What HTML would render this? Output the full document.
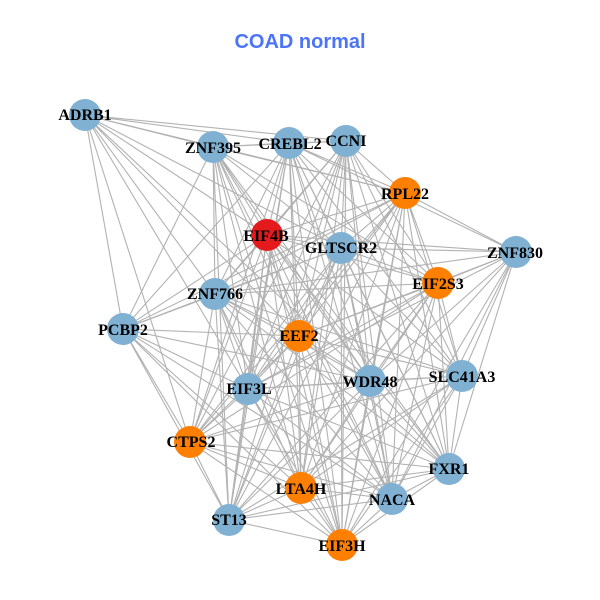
<!DOCTYPE html>
<html><head><meta charset="utf-8"><style>
html,body{margin:0;padding:0;background:#fff}
svg{display:block}
.n text{font:bold 16px "Liberation Serif",serif;text-anchor:middle;fill:#000}
</style></head><body>
<svg width="600" height="600" viewBox="0 0 600 600" xmlns="http://www.w3.org/2000/svg">
<rect width="600" height="600" fill="#fff"/>
<text x="300" y="48" text-anchor="middle" style="font:bold 20px 'Liberation Sans',sans-serif" fill="#4c74f8">COAD normal</text>
<g fill="none" stroke="#b2b2b2" stroke-width="1.1" stroke-linejoin="round">
<path d="M85 115L289 143 85 115 346 141 85 115 213 147 85 115 405 193 85 115 267 235 85 115 341 248 85 115 215 294 85 115 299 336 85 115 248 389 85 115 190 442 85 115 123 329 85 115 370 381"/>
<path d="M213 147L289 143 213 147 346 141 213 147 405 193 213 147 267 235 213 147 341 248 213 147 438 283 213 147 215 294 213 147 123 329 213 147 299 336 213 147 370 381 213 147 248 389 213 147 301 488 213 147 392 499 213 147 229 520 213 147 449 469 213 147 342 545"/>
<path d="M289 143L346 141 289 143 405 193 289 143 267 235 289 143 341 248 289 143 438 283 289 143 516 252 289 143 215 294 289 143 123 329 289 143 299 336 289 143 370 381 289 143 462 376 289 143 248 389 289 143 190 442 289 143 449 469 289 143 301 488 289 143 392 499 289 143 229 520 289 143 342 545"/>
<path d="M346 141L405 193 346 141 267 235 346 141 341 248 346 141 438 283 346 141 215 294 346 141 299 336 346 141 370 381 346 141 462 376 346 141 248 389 346 141 190 442 346 141 301 488 346 141 392 499 346 141 449 469 346 141 342 545 346 141 229 520"/>
<path d="M405 193L516 252 405 193 267 235 405 193 341 248 405 193 438 283 405 193 215 294 405 193 299 336 405 193 370 381 405 193 462 376 405 193 248 389 405 193 190 442 405 193 449 469 405 193 301 488 405 193 392 499 405 193 229 520 405 193 342 545 405 193 123 329"/>
<path d="M267 235L341 248 267 235 516 252 267 235 438 283 267 235 215 294 267 235 123 329 267 235 299 336 267 235 370 381 267 235 462 376 267 235 248 389 267 235 190 442 267 235 449 469 267 235 301 488 267 235 392 499 267 235 229 520 267 235 342 545"/>
<path d="M341 248L516 252 341 248 438 283 341 248 215 294 341 248 123 329 341 248 299 336 341 248 370 381 341 248 462 376 341 248 248 389 341 248 190 442 341 248 449 469 341 248 301 488 341 248 392 499 341 248 229 520 341 248 342 545"/>
<path d="M516 252L438 283 516 252 299 336 516 252 370 381 516 252 462 376 516 252 248 389 516 252 449 469 516 252 392 499 516 252 301 488 516 252 342 545 516 252 215 294"/>
<path d="M438 283L215 294 438 283 299 336 438 283 370 381 438 283 462 376 438 283 248 389 438 283 190 442 438 283 449 469 438 283 301 488 438 283 392 499 438 283 229 520 438 283 342 545"/>
<path d="M215 294L123 329 215 294 299 336 215 294 370 381 215 294 462 376 215 294 248 389 215 294 190 442 215 294 449 469 215 294 301 488 215 294 392 499 215 294 229 520 215 294 342 545"/>
<path d="M123 329L299 336 123 329 370 381 123 329 248 389 123 329 190 442 123 329 301 488 123 329 229 520 123 329 392 499 123 329 342 545"/>
<path d="M299 336L370 381 299 336 462 376 299 336 248 389 299 336 190 442 299 336 449 469 299 336 301 488 299 336 392 499 299 336 229 520 299 336 342 545"/>
<path d="M370 381L462 376 370 381 248 389 370 381 190 442 370 381 449 469 370 381 301 488 370 381 392 499 370 381 229 520 370 381 342 545"/>
<path d="M462 376L248 389 462 376 190 442 462 376 449 469 462 376 301 488 462 376 392 499 462 376 229 520 462 376 342 545"/>
<path d="M248 389L190 442 248 389 449 469 248 389 301 488 248 389 392 499 248 389 229 520 248 389 342 545"/>
<path d="M190 442L449 469 190 442 301 488 190 442 392 499 190 442 229 520 190 442 342 545"/>
<path d="M449 469L301 488 449 469 392 499 449 469 229 520 449 469 342 545"/>
<path d="M301 488L392 499 301 488 229 520 301 488 342 545"/>
<path d="M392 499L229 520 392 499 342 545"/>
<path d="M229 520L342 545"/>
</g>
<g fill="#80b1d3">
<circle cx="85" cy="115" r="16"/><circle cx="213" cy="147" r="16"/><circle cx="289" cy="143" r="16"/><circle cx="346" cy="141" r="16"/>
<circle cx="341" cy="248" r="16"/><circle cx="516" cy="252" r="16"/><circle cx="215" cy="294" r="16"/><circle cx="123" cy="329" r="16"/>
<circle cx="370" cy="381" r="16"/><circle cx="462" cy="376" r="16"/><circle cx="248" cy="389" r="16"/><circle cx="449" cy="469" r="16"/>
<circle cx="392" cy="499" r="16"/><circle cx="229" cy="520" r="16"/>
</g>
<g fill="#ff7f00">
<circle cx="405" cy="193" r="16"/><circle cx="438" cy="283" r="16"/><circle cx="299" cy="336" r="16"/><circle cx="190" cy="442" r="16"/>
<circle cx="301" cy="488" r="16"/><circle cx="342" cy="545" r="16"/>
</g>
<circle cx="267" cy="235" r="16" fill="#e41a1c"/>
<g class="n">
<text x="85" y="120">ADRB1</text>
<text x="213" y="153">ZNF395</text>
<text x="290" y="149">CREBL2</text>
<text x="346" y="146">CCNI</text>
<text x="405" y="199">RPL22</text>
<text x="266" y="241">EIF4B</text>
<text x="341" y="253">GLTSCR2</text>
<text x="515" y="258">ZNF830</text>
<text x="438" y="289">EIF2S3</text>
<text x="215" y="299">ZNF766</text>
<text x="123" y="335">PCBP2</text>
<text x="299" y="341">EEF2</text>
<text x="370" y="387">WDR48</text>
<text x="462" y="382">SLC41A3</text>
<text x="249" y="394">EIF3L</text>
<text x="191" y="447">CTPS2</text>
<text x="449" y="474">FXR1</text>
<text x="301" y="494">LTA4H</text>
<text x="392" y="505">NACA</text>
<text x="229" y="525">ST13</text>
<text x="342" y="551">EIF3H</text>
</g>
</svg>
</body></html>
